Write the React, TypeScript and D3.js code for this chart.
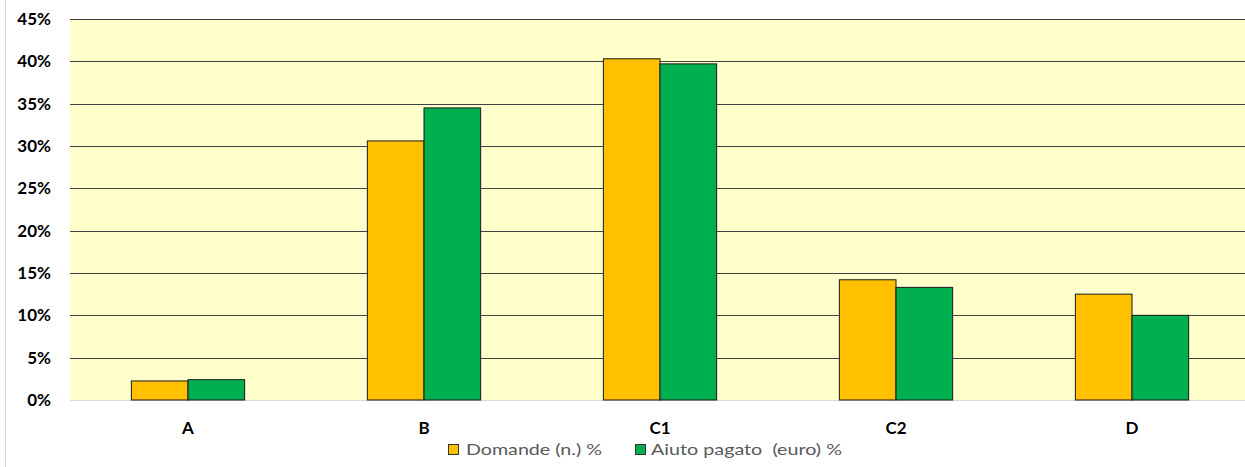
import React from "react";
import * as d3 from "d3";

const categories = ["A", "B", "C1", "C2", "D"];
const domande = [2.25, 30.6, 40.3, 14.2, 12.5];
const aiuto = [2.4, 34.5, 39.7, 13.3, 10.0];
const yTicks = [0, 5, 10, 15, 20, 25, 30, 35, 40, 45];
const seriesNames = ["Domande (n.) %", "Aiuto pagato  (euro) %"];
const seriesColors = ["#FFC000", "#00B050"];

export default function App() {
  const W = 1245, H = 467;
  const left = 70, right = 1250, top = 19, bottom = 400;
  const x = d3.scaleBand<string>().domain(categories).range([left, right]).paddingInner(0.52).paddingOuter(0.26);
  const y = d3.scaleLinear().domain([0, 45]).range([bottom, top]);
  const bw = x.bandwidth() / 2;
  const series = [domande, aiuto];
  const font = "Lato, sans-serif";
  return (
    <svg width={W} height={H} style={{ position: "absolute", left: 0, top: 0 }} fontFamily={font}>
      <rect x={0} y={0} width={W} height={H} fill="#fff" />
      <line x1={5.5} x2={5.5} y1={0} y2={H} stroke="#D9D9D9" />
      <rect x={left} y={top} width={right - left} height={bottom - top} fill="#FFFFCC" />
      {yTicks.map((t) => (
        <g key={t}>
          {t > 0 && <line x1={left} x2={right} y1={Math.round(y(t)) + 0.5} y2={Math.round(y(t)) + 0.5} stroke="#404040" strokeWidth={1.2} />}
          <text x={51} y={y(t) + 6} textAnchor="end" fontSize={17} fontWeight="bold" fill="#000">{t}%</text>
        </g>
      ))}
      <line x1={left} x2={right} y1={bottom + 0.5} y2={bottom + 0.5} stroke="#D9D9D9" />
      {categories.map((c, i) => (
        <g key={c}>
          {series.map((s, j) => (
            <rect key={j} x={(x(c) as number) + j * bw} y={y(s[i])} width={bw} height={bottom - y(s[i])}
              fill={seriesColors[j]} stroke="#1a1a1a" strokeWidth={1} />
          ))}
          <text x={(x(c) as number) + x.bandwidth() / 2} y={434} textAnchor="middle" fontSize={17} fontWeight="bold" fill="#000">{c}</text>
        </g>
      ))}
      <g>
        <rect x={448.5} y={444.5} width={10} height={10} fill={seriesColors[0]} stroke="#333" />
        <text x={466} y={455} fontSize={16} fill="#595959" textLength={136} lengthAdjust="spacingAndGlyphs">{seriesNames[0]}</text>
        <rect x={635.5} y={444.5} width={10} height={10} fill={seriesColors[1]} stroke="#333" />
        <text x={651} y={455} fontSize={16} fill="#595959" style={{ whiteSpace: "pre" }} textLength={191} lengthAdjust="spacingAndGlyphs">{seriesNames[1]}</text>
      </g>
    </svg>
  );
}
